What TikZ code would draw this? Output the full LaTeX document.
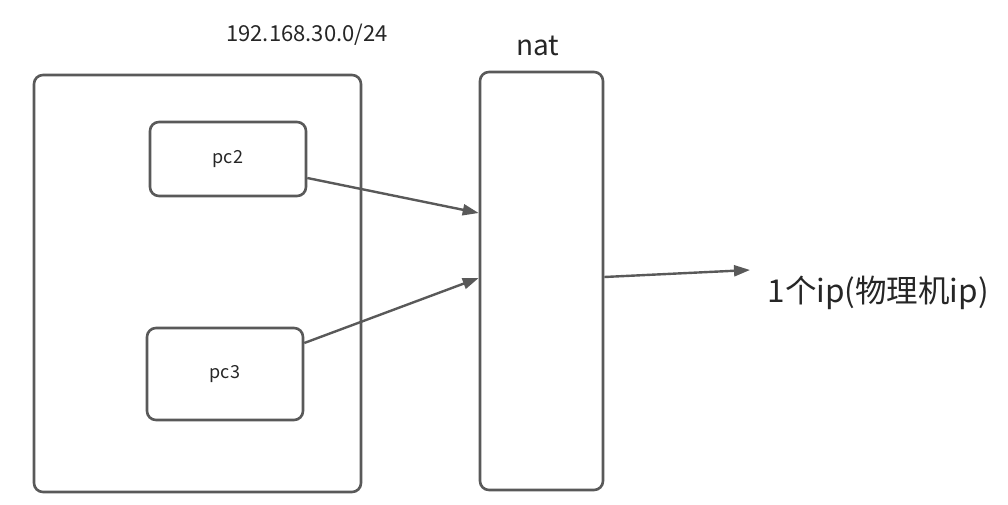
\documentclass[tikz,border=0pt]{standalone}
\usepackage{fontspec}
\setmainfont{Noto Sans CJK SC}
\usetikzlibrary{positioning, arrows.meta}

\definecolor{boxgray}{HTML}{595959}
\definecolor{txtgray}{HTML}{262626}

\tikzset{
  box/.style={draw=boxgray, line width=2.6pt, rounded corners=9pt, rectangle},
  link/.style={draw=boxgray, line width=2.4pt, -{Triangle[length=16pt,width=11pt]}},
}

\begin{document}
\begin{tikzpicture}[x=1pt, y=-1pt, text=txtgray]
\useasboundingbox (0,0) rectangle (1008,505);

\node[box, minimum width=327pt, minimum height=417pt] at (197.5,283.5) (lan) {} ;
\node[box, minimum width=156pt, minimum height=74pt, font=\fontsize{18}{20}\selectfont] at (228,159) (pc2) {pc2} ;
\node[box, minimum width=156pt, minimum height=92pt, font=\fontsize{18}{20}\selectfont] at (225,374) (pc3) {pc3} ;
\node[box, minimum width=123pt, minimum height=418pt] at (541.5,281) (nat) {} ;

\node[font=\fontsize{22}{25}\selectfont] at (307,35) (subnet) {192.168.30.0/24} ;
\node[font=\fontsize{28}{32}\selectfont] at (538,46) (natlabel) {nat} ;
\node[font=\fontsize{31.5}{36}\selectfont, anchor=west] at (764,293) (ip) {1个ip(物理机ip)} ;

\draw[link] ([yshift=-19pt]pc2.east) -- ([yshift=68pt]nat.west) ;
\draw[link] ([yshift=31pt]pc3.east) -- ([yshift=3pt]nat.west) ;
\draw[link] ([yshift=4pt]nat.east) -- ([xshift=-14pt,yshift=23pt]ip.west) ;
\end{tikzpicture}
\end{document}
